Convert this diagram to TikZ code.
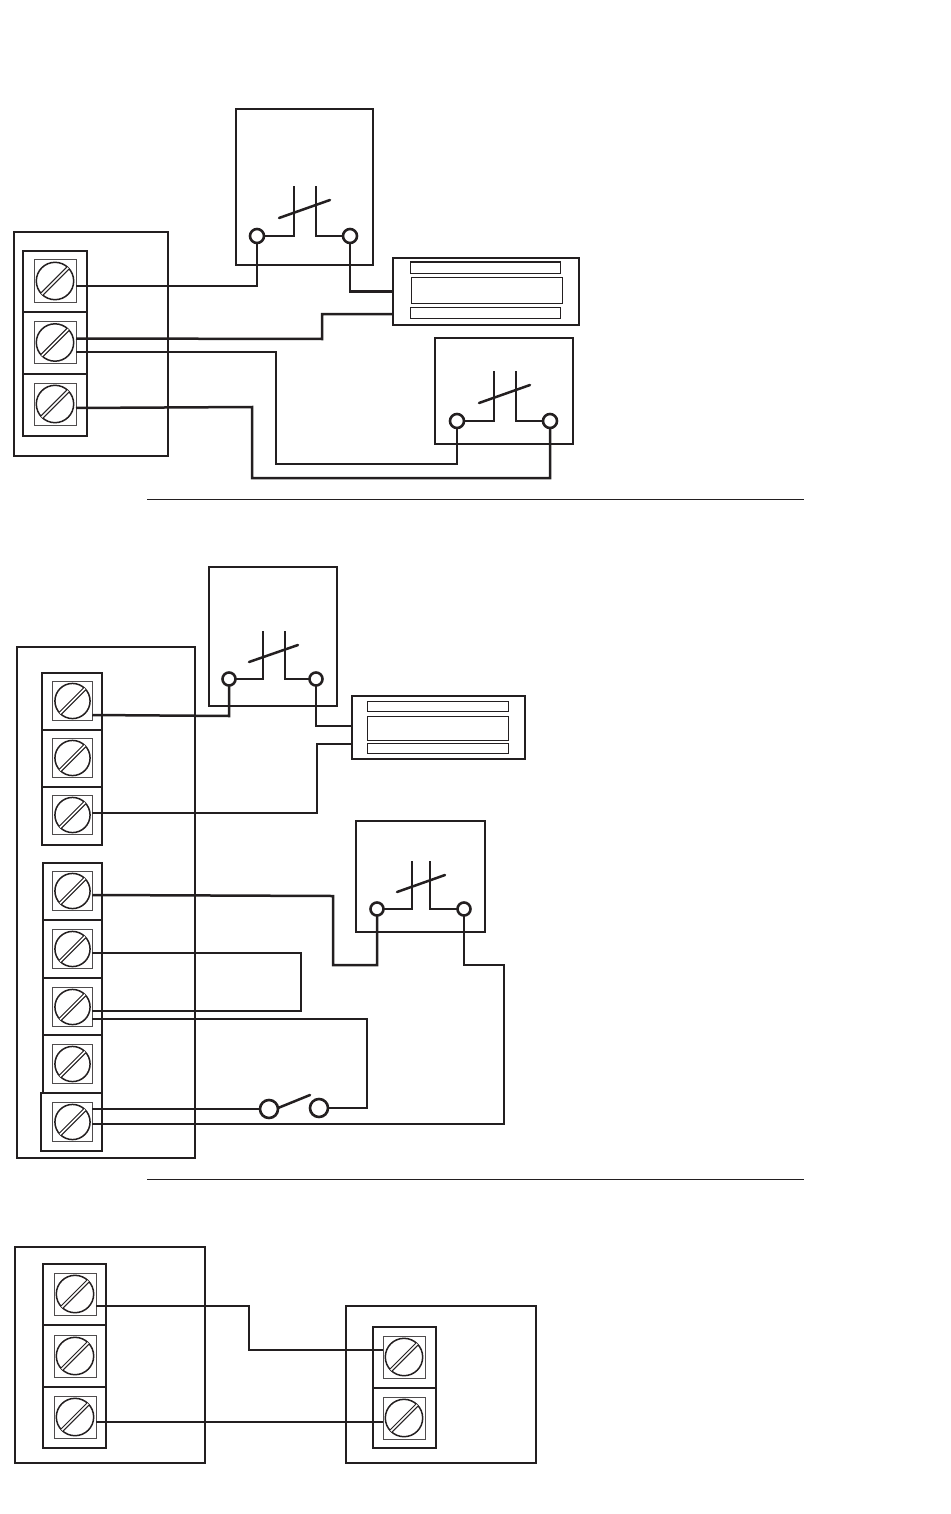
\documentclass[tikz,border=0pt]{standalone}
\usepackage{tikz}
\usetikzlibrary{fit,calc}
\definecolor{ink}{HTML}{231F20}

\tikzset{
  encl/.style={draw=ink, line width=2.8pt, inner sep=0pt, outer sep=0pt},
  blockbox/.style={draw=ink, line width=2.5pt, inner sep=0pt, outer sep=0pt},
  thinbox/.style={draw=ink, line width=1pt, inner sep=0pt, outer sep=0pt},
  wire/.style={draw=ink, line width=2.5pt, line join=miter},
  fine/.style={draw=ink, line width=1.4pt},
  pad/.style={circle, draw=ink, line width=2.6pt, fill=white, inner sep=0pt, outer sep=0pt, minimum size=#1},
  pad/.default=13pt
}

% terminal: name, outer box corners, screw centre, side of the square
\newcommand{\tblock}[8]{
  \node (#1) [blockbox, fit={(#2,#3) (#4,#5)}] {};
  \node (#1s) [draw=ink!80, line width=1pt, inner sep=0pt, outer sep=0pt, minimum size=#8pt] at (#6,#7) {};
  \node (#1c) [circle, draw=ink, line width=1.5pt, inner sep=0pt, outer sep=0pt, minimum size=#8*0.89pt] at (#6,#7) {};
  \draw[draw=ink, line width=1.1pt, double=white, double distance=1.7pt] (#1c.45) -- (#1c.225);
}

% contact: name, box corners, x of the two pads, y of pads, pad size
\newcommand{\contact}[9]{
  \node (#1) [encl, fit={(#2,#3) (#4,#5)}] {};
  \node (#1l) [pad=#9pt] at (#6,#8) {};
  \node (#1r) [pad=#9pt] at (#7,#8) {};
}

\begin{document}
\begin{tikzpicture}[x=1pt, y=-1pt]
  \useasboundingbox (0,0) rectangle (950,1514);

  % first panel
  \node (panA) [encl, fit={(14,232) (168,456)}] {};
  \tblock{a1}{23}{251}{87}{312}{55}{281}{42}
  \tblock{a2}{23}{312}{87}{374}{55}{342.5}{42}
  \tblock{a3}{23}{374}{87}{436}{55}{404}{42}

  \contact{swA}{236}{109}{373}{265}{257}{350}{236}{14}
  \draw[wire] (swAl.east) -| (294,186);
  \draw[wire] (swAr.west) -| (316,186);
  \draw[wire, line cap=round] (279,218) -- (330,200);

  \node (lockA) [encl, fit={(393,258) (579,325)}] {};
  \node (lockA1) [thinbox, fit={(410,262) (560,273)}] {};
  \node (lockA2) [thinbox, fit={(411,277) (562,303)}] {};
  \node (lockA3) [thinbox, fit={(410,307) (560,318)}] {};

  \contact{swB}{435}{338}{573}{444}{457}{550}{421}{14}
  \draw[wire] (swBl.east) -| (494,371);
  \draw[wire] (swBr.west) -| (516,371);
  \draw[wire, line cap=round] (479,403) -- (530,385);

  \draw[wire] ([yshift=-5pt]a1s.east) -| (swAl.south);
  \draw[wire] (swAr.south) |- (lockA.west);
  \draw[wire] ([yshift=4pt]a2s.east) -- (322,339) |- ([yshift=-22.5pt]lockA.west);
  \draw[wire] ([yshift=-9.5pt]a2s.east) -- (276,352) |- (swBl.south |- 0,464) -- (swBl.south);
  \draw[wire] ([yshift=-4pt]a3s.east) -- (252,407) |- (swBr.south |- 0,478) -- (swBr.south);

  \coordinate (sepAl) at (147,499.5);
  \coordinate (sepAr) at (804,499.5);
  \draw[ink, line width=1pt] (sepAl) -- (sepAr);

  % second panel
  \node (panB) [encl, fit={(17,647) (195,1158)}] {};
  \tblock{b1}{42}{673}{102}{730}{72.5}{701}{39.5}
  \tblock{b2}{42}{730}{102}{787}{72.5}{758}{39.5}
  \tblock{b3}{42}{787}{102}{845}{72.5}{815}{39.5}
  \tblock{b4}{43}{863}{102}{920}{72.5}{891}{39.5}
  \tblock{b5}{43}{920}{102}{978}{72.5}{949}{39.5}
  \tblock{b6}{43}{978}{102}{1035}{72.5}{1007}{39.5}
  \tblock{b7}{43}{1035}{102}{1093}{72.5}{1064}{39.5}
  \tblock{b8}{41}{1093}{102}{1151}{72.5}{1122}{39.5}

  \contact{swC}{209}{567}{337}{706}{229}{316}{679}{13}
  \draw[wire] (swCl.east) -| (263,631);
  \draw[wire] (swCr.west) -| (285,631);
  \draw[wire, line cap=round] (249,662) -- (298,645);

  \node (lockB) [encl, fit={(352,696) (525,759)}] {};
  \node (lockB1) [thinbox, fit={(367,701) (508,711)}] {};
  \node (lockB2) [thinbox, fit={(367,716) (508,740)}] {};
  \node (lockB3) [thinbox, fit={(367,743) (508,753)}] {};

  \contact{swD}{356}{821}{485}{932}{377}{464}{909}{13}
  \draw[wire] (swDl.east) -| (412,861);
  \draw[wire] (swDr.west) -| (430,861);
  \draw[wire, line cap=round] (397,892) -- (445,875);

  \node (nsL) [pad=18pt] at (269,1109) {};
  \node (nsR) [pad=18pt] at (319,1108) {};
  \draw[wire, line cap=round] (278,1108) -- (310,1095);

  \draw[wire] ([yshift=-14pt]b1s.east) -- (229,716) -- (swCl.south);
  \draw[wire] (swCr.south) |- ([yshift=1.5pt]lockB.west);
  \draw[wire] ([yshift=2pt]b3s.east) -- (317,813) |- ([yshift=-16.5pt]lockB.west);
  \draw[wire] ([yshift=-4pt]b4s.east) -- (333,896) |- (swDl.south |- 0,965) -- (swDl.south);
  \draw[wire] (swDr.south) |- (504,965) |- ([yshift=-2pt]b8s.east);
  \draw[wire] ([yshift=-4pt]b5s.east) -| (301,1011) -- ([yshift=-4pt]b6s.east);
  \draw[wire] ([yshift=-12pt]b6s.east) -| (367,1108) -- (nsR.east);
  \draw[wire] ([yshift=13pt]b8s.east) -- (nsL.west);

  \coordinate (sepBl) at (147,1179);
  \coordinate (sepBr) at (804,1179);
  \draw[ink, line width=1pt] (sepBl) -- (sepBr);

  % third panel
  \node (panC) [encl, fit={(15,1247) (205,1463)}] {};
  \tblock{c1}{43}{1264}{106}{1325}{75}{1294}{42}
  \tblock{c2}{43}{1325}{106}{1387}{75}{1356}{42}
  \tblock{c3}{43}{1387}{106}{1448}{75}{1417}{42}

  \node (panD) [encl, fit={(346,1306) (536,1463)}] {};
  \tblock{d1}{373}{1327}{436}{1388}{404}{1357}{42}
  \tblock{d2}{373}{1388}{436}{1448}{404}{1418}{42}

  \draw[fine] ([yshift=-12pt]c1s.east) -- (249,1306) |- ([yshift=7pt]d1s.west);
  \draw[fine] ([yshift=-5pt]c3s.east) -- ([yshift=-4pt]d2s.west);
\end{tikzpicture}
\end{document}
